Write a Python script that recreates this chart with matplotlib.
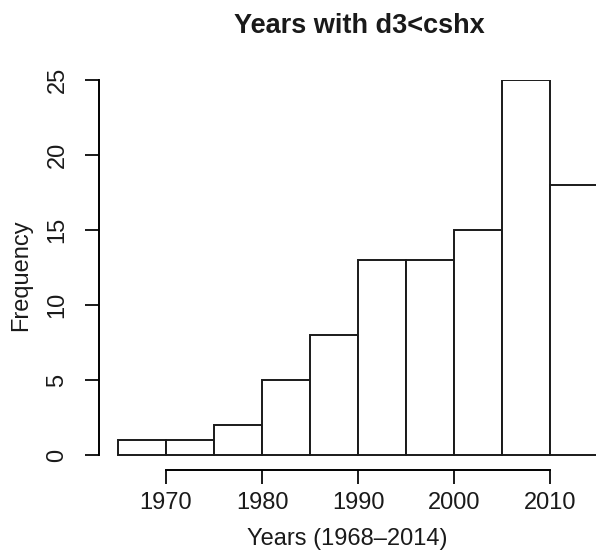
import numpy as np
import matplotlib.pyplot as plt

plt.rcParams['font.family'] = ['Liberation Sans', 'DejaVu Sans']

# histogram bins (5-year) and counts
bin_edges = [1965, 1970, 1975, 1980, 1985, 1990, 1995, 2000, 2005, 2010, 2015]
counts = [1, 1, 2, 5, 8, 13, 13, 15, 25, 18]
x_ticks = [1970, 1980, 1990, 2000, 2010]
y_ticks = [0, 5, 10, 15, 20, 25]

fig = plt.figure(figsize=(5.96, 5.54), dpi=100)
ax = fig.add_axes([99 / 596, 84 / 554, 497 / 596, 390 / 554])

lefts = np.array(bin_edges[:-1])
widths = np.diff(bin_edges)
ax.bar(lefts, counts, width=widths, align='edge', color='white',
       edgecolor='#1a1a1a', linewidth=1.4)

ax.set_xlim(1963.02, 2014.79)
ax.set_ylim(-1, 25)

for s in ['top', 'right']:
    ax.spines[s].set_visible(False)
ax.spines['left'].set_bounds(0, 25)
ax.spines['bottom'].set_bounds(1970, 2010)
ax.spines['left'].set_linewidth(1.4)
ax.spines['bottom'].set_linewidth(1.4)

ax.set_xticks(x_ticks)
ax.set_yticks(y_ticks)
ax.tick_params(axis='both', length=10, width=1.4, labelsize=17, colors='#1a1a1a')
ax.tick_params(axis='x', pad=6)
ax.tick_params(axis='y', pad=12)
plt.setp(ax.get_yticklabels(), rotation=90, va='center')

ax.set_xlabel('Years (1968\u20132014)', fontsize=17, color='#1a1a1a', labelpad=10)
ax.set_ylabel('Frequency', fontsize=17, color='#1a1a1a', labelpad=10)
ax.set_title('Years with d3<cshx', fontsize=19.5, fontweight='bold', color='#1a1a1a',
             pad=34, x=(359 - 99) / 497)

fig.savefig('out.png', dpi=100)
